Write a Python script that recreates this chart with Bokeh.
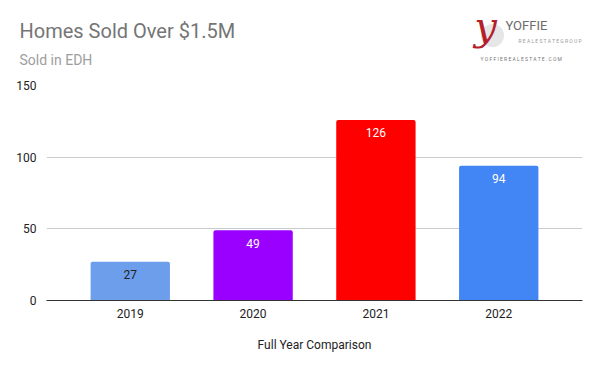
from bokeh.plotting import figure
from bokeh.models import ColumnDataSource, Range1d, FixedTicker
from bokeh.core.properties import value
from bokeh.embed import file_html
from bokeh.resources import INLINE

# ---- data ----
years = ["2019", "2020", "2021", "2022"]
homes_sold = [27, 49, 126, 94]
bar_colors = ["#6d9eeb", "#9900ff", "#ff0000", "#4285f4"]
label_colors = ["#222222", "#ffffff", "#ffffff", "#ffffff"]
y_ticks = [0, 50, 100, 150]
title_text = "Homes Sold Over $1.5M"
subtitle_text = "Sold in EDH"
x_title = "Full Year Comparison"

FONT = "Roboto"
W = 600
HEAD_H = 78
CHART_H = 293

# ---------------- header (title, subtitle, logo) ----------------
head = figure(width=W, height=HEAD_H, output_backend="svg", toolbar_location=None,
              x_range=Range1d(0, W), y_range=Range1d(HEAD_H, 0),
              x_axis_location=None, y_axis_location=None,
              min_border=0)
head.title.visible = False
head.grid.visible = False
head.outline_line_color = None
head.background_fill_color = "white"
head.border_fill_color = "white"

def htext(x, y, t, size, color, align="left", font=FONT, style="normal"):
    head.text(x=[x], y=[y], text=[t], text_font=value(font), text_font_size=size,
              text_color=color, text_align=align, text_baseline="middle",
              text_font_style=style)

htext(19, 30.5, title_text, "20px", "#757575")
htext(19, 59, subtitle_text, "14px", "#9e9e9e")

# logo
head.scatter(x=[492], y=[35], size=23, marker="circle", fill_color="#e6e6e6", line_color=None)
htext(485, 25, "y", "40px", "#b3202a", align="center", font="DejaVu Serif", style="italic")
htext(505, 24.5, "YOFFIE", "13px", "#6b6b6b")
htext(518, 40, "R E A L   E S T A T E   G R O U P", "5px", "#9a9a9a")
htext(480, 58.5, "Y O F F I E R E A L E S T A T E . C O M", "5px", "#777777")

# ---------------- chart ----------------
positions = list(range(len(years)))
src = ColumnDataSource(dict(
    x=positions,
    top=homes_sold,
    color=bar_colors,
    label=[str(v) for v in homes_sold],
    label_color=label_colors,
))

p = figure(width=W, height=CHART_H, output_backend="svg", toolbar_location=None,
           x_range=Range1d(-0.682, 3.682), y_range=Range1d(0, 150),
           min_border_left=46, min_border_right=18, min_border_top=7, min_border_bottom=71)
p.title.visible = False
p.outline_line_color = None
p.background_fill_color = "white"
p.border_fill_color = "white"

p.vbar(x="x", top="top", width=0.646, bottom=0, color="color", source=src,
       line_color=None, border_radius=(2, 2, 0, 0))

p.text(x="x", y="top", text="label", text_color="label_color", source=src,
       text_align="center", text_baseline="middle", y_offset=13,
       text_font=value(FONT), text_font_size="12px")

p.xaxis.ticker = FixedTicker(ticks=positions)
p.xaxis.major_label_overrides = {i: y for i, y in enumerate(years)}
p.xaxis.axis_line_color = "#333333"
p.xaxis.axis_line_width = 1
p.xaxis.major_tick_line_color = None
p.xaxis.minor_tick_line_color = None
p.xaxis.major_label_text_font = FONT
p.xaxis.major_label_text_font_size = "12px"
p.xaxis.major_label_text_color = "#222222"
p.xaxis.major_label_standoff = 2
p.xaxis.axis_label = x_title
p.xaxis.axis_label_text_font = FONT
p.xaxis.axis_label_text_font_size = "12px"
p.xaxis.axis_label_text_font_style = "normal"
p.xaxis.axis_label_text_color = "#222222"
p.xaxis.axis_label_standoff = 17

p.yaxis.ticker = FixedTicker(ticks=y_ticks)
p.yaxis.axis_line_color = None
p.yaxis.major_tick_line_color = None
p.yaxis.minor_tick_line_color = None
p.yaxis.major_label_text_font = FONT
p.yaxis.major_label_text_font_size = "12px"
p.yaxis.major_label_text_color = "#222222"
p.yaxis.major_label_standoff = 4

p.xgrid.grid_line_color = None
p.ygrid.grid_line_color = "#cccccc"
p.ygrid.grid_line_width = 1

open("out.html", "w").write(file_html([head, p], INLINE))
